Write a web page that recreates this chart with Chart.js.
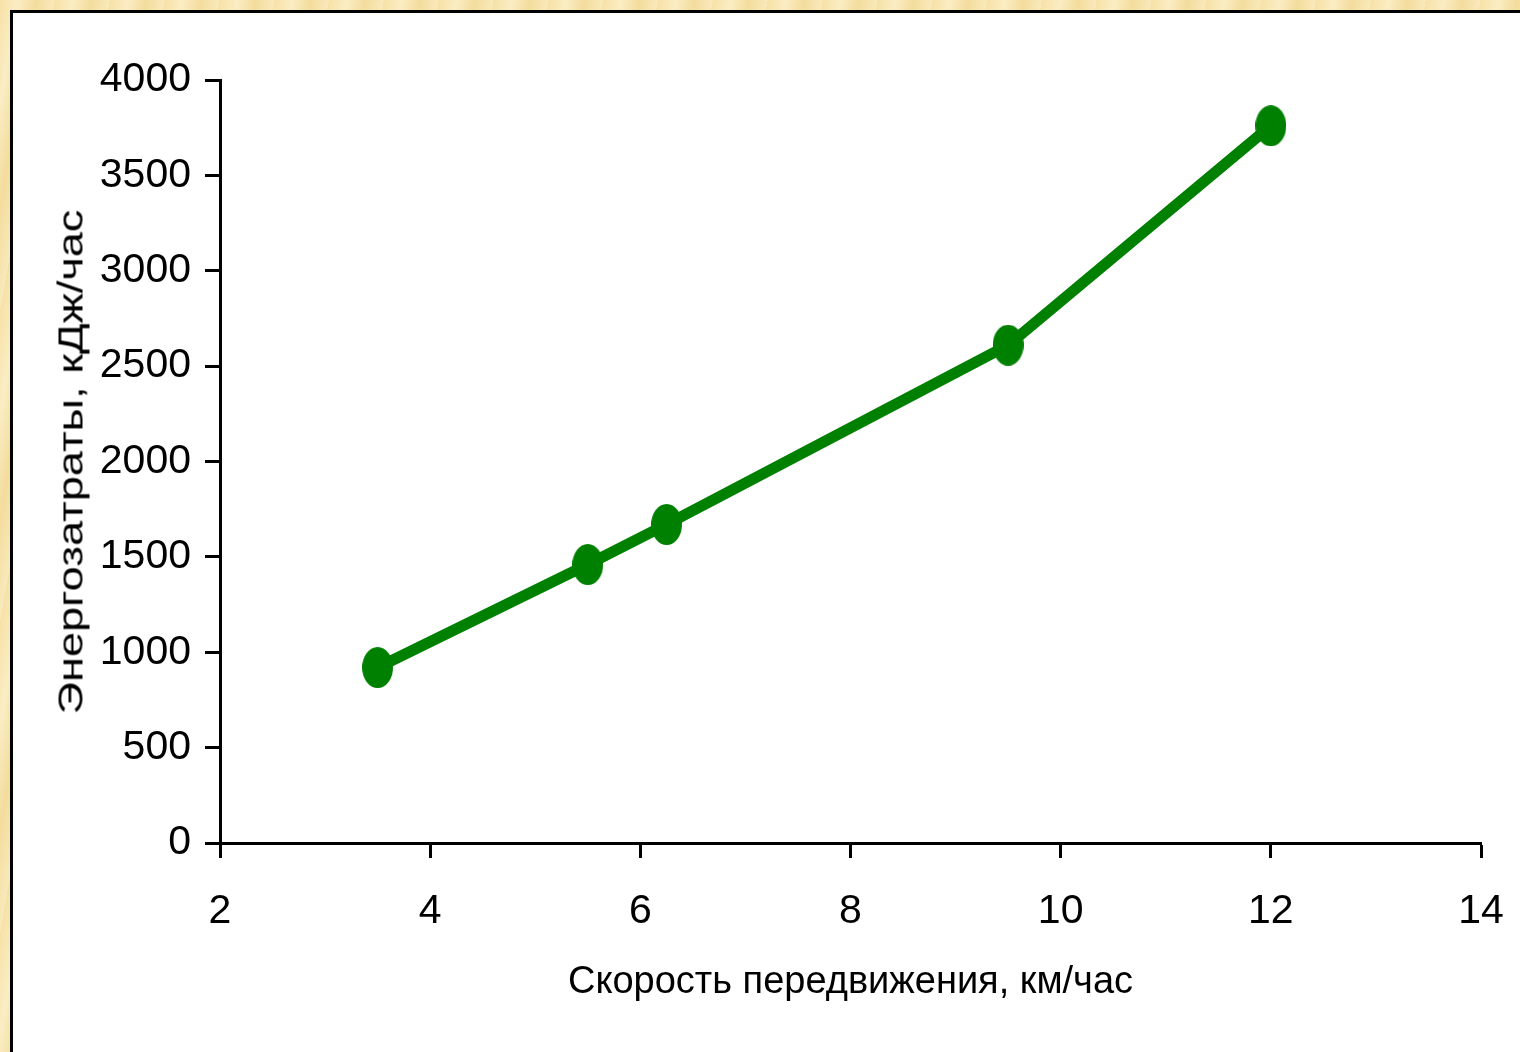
<!DOCTYPE html>
<html>
<head>
<meta charset="utf-8">
<script src="https://cdn.jsdelivr.net/npm/chart.js@4/dist/chart.umd.min.js"></script>
<style>
  body {
    margin: 0;
    width: 1520px;
    height: 1052px;
    overflow: hidden;
    font-family: 'Liberation Sans', Arial, sans-serif;
    background: repeating-linear-gradient(100deg, #f6e1a6 0px, #fbedc4 18px, #f3dc9c 36px, #f9e9bb 54px);
  }
  #panel {
    position: absolute;
    left: 10px;
    top: 10px;
    width: 1510px;
    height: 1042px;
    background: #fff;
    border-left: 3px solid #000;
    border-top: 3px solid #000;
    box-sizing: border-box;
  }
  #chart-box {
    position: absolute;
    left: 0;
    top: 0;
    width: 1507px;
    height: 1039px;
  }
  /* y title is drawn taller than wide in the original, so it is stretched along its length */
  #y-title {
    position: absolute;
    left: 70px;
    top: 462px;
    font-size: 35px;
    line-height: 35px;
    white-space: nowrap;
    color: #000;
    transform: translate(-50%, -50%) rotate(-90deg) scaleX(1.29);
  }
</style>
</head>
<body>
<div id="panel">
  <div id="chart-box"><canvas id="line-chart"></canvas></div>
</div>
<div id="y-title"></div>
<script>
// data
const speedKmh = [3.5, 5.5, 6.25, 9.5, 12];
const energyKj = [920, 1460, 1670, 2610, 3760];
const xTitle = 'Скорость передвижения, км/час';
const yTitle = 'Энергозатраты, кДж/час';

const lineColor = '#008000';
const fontFamily = "'Liberation Sans', Arial, sans-serif";

document.getElementById('y-title').textContent = yTitle;

// oval marker, a bit taller than wide
const makeMarker = () => {
  const c = document.createElement('canvas');
  c.width = 31;
  c.height = 41;
  const ctx = c.getContext('2d');
  ctx.fillStyle = lineColor;
  ctx.beginPath();
  ctx.ellipse(15.5, 20.5, 15.5, 20.5, 0, 0, Math.PI * 2);
  ctx.fill();
  return c;
};

const axisLine = {
  display: true,
  drawOnChartArea: false,
  drawTicks: true,
  tickLength: 15,
  tickWidth: 3,
  tickColor: '#000',
  color: '#000'
};

const points = speedKmh.map((x, i) => ({ x: x, y: energyKj[i] }));

new Chart(document.getElementById('line-chart'), {
  type: 'line',
  data: {
    datasets: [{
      data: points,
      borderColor: lineColor,
      backgroundColor: lineColor,
      borderWidth: 11,
      pointStyle: makeMarker(),
      pointRadius: 16,
      pointHoverRadius: 16,
      tension: 0,
      clip: false
    }]
  },
  options: {
    responsive: true,
    maintainAspectRatio: false,
    animation: false,
    events: [],
    layout: { padding: { top: 67, right: 39, left: 0, bottom: 0 } },
    plugins: {
      legend: { display: false },
      tooltip: { enabled: false }
    },
    scales: {
      x: {
        type: 'linear',
        min: 2,
        max: 14,
        grid: axisLine,
        border: { display: true, color: '#000', width: 3 },
        ticks: {
          stepSize: 2,
          padding: 29,
          color: '#000',
          maxRotation: 0,
          callback: (v) => String(v),
          font: { family: fontFamily, size: 41 }
        },
        title: {
          display: true,
          text: xTitle,
          color: '#000',
          padding: { top: 0, bottom: 47 },
          font: { family: fontFamily, size: 38 }
        },
        afterFit: (scale) => {
          scale.height = 209;
          scale.paddingLeft = 0;
          scale.paddingRight = 0;
        }
      },
      y: {
        min: 0,
        max: 4000,
        grid: axisLine,
        border: { display: true, color: '#000', width: 3 },
        ticks: {
          stepSize: 500,
          padding: 14,
          color: '#000',
          callback: (v) => String(v),
          font: { family: fontFamily, size: 41 }
        },
        afterFit: (scale) => { scale.width = 207; }
      }
    }
  }
});
</script>
</body>
</html>
